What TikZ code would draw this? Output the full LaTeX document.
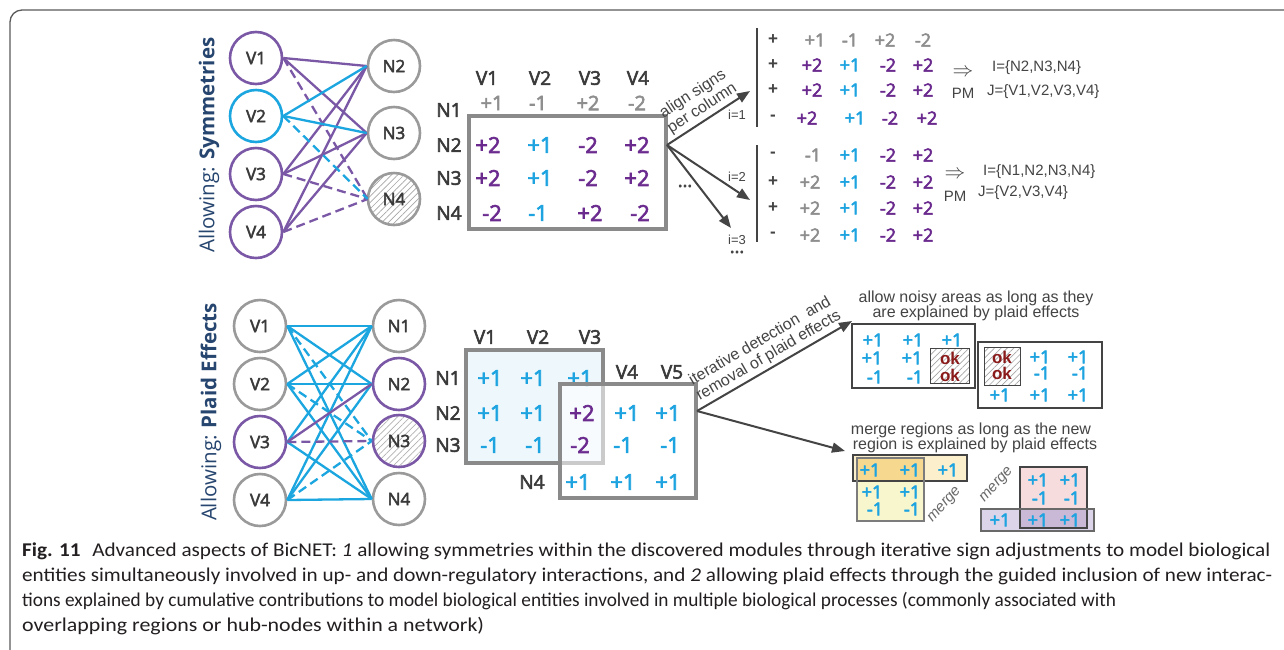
\documentclass[tikz,border=0pt]{standalone}
\usepackage{fontspec}
\usepackage{graphicx}
\setmainfont{Open Sans}
\newfontfamily\osemi[FakeBold=3]{Open Sans}
\newfontfamily\arialf{Liberation Sans}
\newfontfamily\capfont{Carlito}
\usetikzlibrary{arrows.meta,patterns.meta}

\definecolor{pcirc}{HTML}{7B58A6}
\definecolor{ccirc}{HTML}{1BA6E0}
\definecolor{gcirc}{HTML}{9A9A9A}
\definecolor{ptxt}{HTML}{6A2A8E}
\definecolor{ctxt}{HTML}{1CA3E0}
\definecolor{gtxt}{HTML}{8E8E8E}
\definecolor{ltxt}{HTML}{3A3A3A}
\definecolor{navy}{HTML}{26456F}
\definecolor{mbox}{HTML}{8A8A8A}
\definecolor{dk}{HTML}{444444}
\definecolor{okred}{HTML}{8B1A1A}
\definecolor{lblue}{HTML}{EEF8FC}
\definecolor{ypeach}{HTML}{FCEFCB}
\definecolor{ylite}{HTML}{F8F6CC}
\definecolor{yover}{HTML}{F6D88E}
\definecolor{ppink}{HTML}{F6DCDC}
\definecolor{plav}{HTML}{DCD5EA}
\definecolor{pover}{HTML}{C9B8D6}
\definecolor{framec}{HTML}{5A5A5A}
\definecolor{captc}{HTML}{231F20}

\newcommand\fsz[1]{\fontsize{#1}{#1}\selectfont}
% one caption line, stretched or squeezed horizontally to its set width
\newcommand\captxt[2]{\resizebox{#1}{\height}{\capfont\fsz{19.5}#2}}

\tikzset{
  gnode/.style={circle, line width=2.6pt, minimum size=52pt, inner sep=0pt, font=\osemi\fsz{17}, text=ltxt},
  hatch/.style={pattern={Lines[angle=45,distance=4.5pt,line width=0.7pt]}, pattern color=gray!70},
  pe/.style={draw=pcirc, line width=2.3pt},
  ce/.style={draw=ccirc, line width=2.3pt},
  dsh/.style={dash pattern=on 9pt off 5pt},
  lab/.style={font=\osemi\fsz{19}, text=ltxt, inner sep=0pt},
  bigv/.style={font=\osemi\fsz{22}, inner sep=0pt},
  midv/.style={font=\osemi\fsz{20}, inner sep=0pt},
  smv/.style={font=\osemi\fsz{18}, inner sep=0pt},
  mframe/.style={draw=mbox, line width=3.5pt},
  arr/.style={draw=dk, line width=2pt, -{Triangle[length=13pt,width=10pt]}},
  note/.style={font=\arialf\fsz{16}, text=dk, inner sep=0pt},
  slopetxt/.style={midway, sloped, above=3pt, align=center, font=\arialf\fontsize{16}{17}\selectfont, text=dk, inner sep=0pt},
  small/.style={font=\arialf\fsz{13}, text=dk, inner sep=0pt},
  sgn/.style={font=\arialf\bfseries\fsz{17}, text=dk, inner sep=0pt},
  sbox/.style={draw=dk, line width=2pt},
  okbox/.style={draw=dk, line width=1pt, hatch},
  oktxt/.style={font=\arialf\bfseries\fsz{17}, text=okred, inner sep=0pt},
  mergetxt/.style={font=\arialf\itshape\fsz{15}, text=dk!80, inner sep=0pt, rotate=48},
  captline/.style={anchor=base west, inner sep=0pt, text=captc},
}

\begin{document}
\begin{tikzpicture}[x=1pt,y=-1pt]
\useasboundingbox (0,0) rectangle (1284,649);
\fill[white] (0,0) rectangle (1284,649);
% outer frame, open to the right and bottom
\draw[draw=framec, line width=1.3pt, rounded corners=12pt] (10,700) -- (10,10) -- (1320,10);

% ---------------- part 1: symmetries ----------------
\node[rotate=90, font=\fsz{20.5}, text=navy, inner sep=0pt] (alS) at (209,145) {Allowing: \textbf{Symmetries}};

\node[gnode, draw=pcirc] (tV1) at (256,58) {V1};
\node[gnode, draw=ccirc] (tV2) at (256,116) {V2};
\node[gnode, draw=pcirc] (tV3) at (256,174) {V3};
\node[gnode, draw=pcirc] (tV4) at (256,232) {V4};
\node[gnode, draw=gcirc] (tN2) at (394,66) {N2};
\node[gnode, draw=gcirc] (tN3) at (394,133) {N3};
\node[gnode, draw=gcirc, hatch] (tN4) at (394,199) {N4};

\foreach \v in {1,3,4} {
  \draw[pe] (tV\v.east) -- (tN2.west);
  \draw[pe] (tV\v.east) -- (tN3.west);
  \draw[pe,dsh] (tV\v.east) -- (tN4.west);
}
\draw[ce] (tV2.east) -- (tN2.west);
\draw[ce] (tV2.east) -- (tN3.west);
\draw[ce,dsh] (tV2.east) -- (tN4.west);

% matrix
\foreach \x/\t in {487/V1,540/V2,590/V3,638/V4}
  \node[lab] (th\t) at (\x,78) {\t};
\node[lab] (trN1) at (449,110) {N1};
\node[lab] (trN2) at (449,145) {N2};
\node[lab] (trN3) at (449,178) {N3};
\node[lab] (trN4) at (449,213) {N4};
\node[mframe, minimum width=197pt, minimum height=113pt, inner sep=0pt] (tbox) at (567.5,172.5) {};
\foreach \n/\x/\y/\c/\t in {
  11/492/103/gtxt/+1, 12/538/103/gtxt/-1, 13/588/103/gtxt/+2, 14/637/103/gtxt/-2}
  \node[midv, text=\c] (tm\n) at (\x,\y) {\t};
\foreach \n/\x/\y/\c/\t in {
  21/488/145/ptxt/+2, 22/540/145/ctxt/+1, 23/588/145/ptxt/-2, 24/637/145/ptxt/+2,
  31/488/178/ptxt/+2, 32/540/178/ctxt/+1, 33/588/178/ptxt/-2, 34/637/178/ptxt/+2,
  41/492/213/ptxt/-2, 42/538/213/ctxt/-1, 43/590/213/ptxt/+2, 44/640/213/ptxt/-2}
  \node[bigv, text=\c] (tm\n) at (\x,\y) {\t};

% sign alignment arrows
\coordinate (tsrc) at (667,145);
\coordinate (ta1) at (750,91);
\coordinate (ta2) at (750,200);
\coordinate (ta3) at (731,228);
\draw[arr] (tsrc) -- node[slopetxt] (alignlab) {align signs\\per column} (ta1);
\draw[arr] (tsrc) -- (ta2);
\draw[arr] (tsrc) -- (ta3);
\node[small] (i1) at (737,115) {i=1};
\node[small] (i2) at (737,177) {i=2};
\node[small] (i3) at (737,240) {i=3};
\node[font=\osemi\fsz{18}, text=dk, inner sep=0pt] (dots1) at (685,186) {...};
\node[font=\osemi\fsz{18}, text=dk, inner sep=0pt] (dots2) at (737,252) {...};

% adjusted submatrices
\draw[draw=dk, line width=2pt] (757,28) -- (757,127);
\draw[draw=dk, line width=2pt] (757,145) -- (757,242);
\foreach \n/\y/\s in {a1/40/+, a2/65/+, a3/90/+, a4/118/-, b1/155/-, b2/182/+, b3/208/+, b4/235/-}
  \node[sgn] (sg\n) at (773,\y) {\s};
\foreach \n/\x/\y/\c/\t in {
  a11/815/40/gtxt/+1, a12/850/40/gtxt/-1, a13/885/40/gtxt/+2, a14/923/40/gtxt/-2,
  a21/812/65/ptxt/+2, a22/850/65/ctxt/+1, a23/888/65/ptxt/-2, a24/923/65/ptxt/+2,
  a31/812/90/ptxt/+2, a32/850/90/ctxt/+1, a33/888/90/ptxt/-2, a34/923/90/ptxt/+2,
  a41/807/118/ptxt/+2, a42/855/118/ctxt/+1, a43/890/118/ptxt/-2, a44/927/118/ptxt/+2,
  b11/813/155/gtxt/-1, b12/850/155/ctxt/+1, b13/888/155/ptxt/-2, b14/923/155/ptxt/+2,
  b21/810/182/gtxt/+2, b22/850/182/ctxt/+1, b23/888/182/ptxt/-2, b24/923/182/ptxt/+2,
  b31/810/208/gtxt/+2, b32/850/208/ctxt/+1, b33/888/208/ptxt/-2, b34/923/208/ptxt/+2,
  b41/810/235/gtxt/+2, b42/850/235/ctxt/+1, b43/888/235/ptxt/-2, b44/923/235/ptxt/+2}
  \node[smv, text=\c] (r\n) at (\x,\y) {\t};

% resulting modules
\node[font=\fsz{20}, text=dk, inner sep=0pt] (imp1) at (963,73) {$\Rightarrow$};
\node[note, font=\arialf\fsz{15}] (pm1) at (963,93) {PM};
\node[note, font=\arialf\fsz{15}, anchor=west] (I1) at (992,68) {I=\{N2,N3,N4\}};
\node[note, font=\arialf\fsz{15}, anchor=west] (J1) at (987,92) {J=\{V1,V2,V3,V4\}};
\node[font=\fsz{20}, text=dk, inner sep=0pt] (imp2) at (955,175) {$\Rightarrow$};
\node[note, font=\arialf\fsz{15}] (pm2) at (955,196) {PM};
\node[note, font=\arialf\fsz{15}, anchor=west] (I2) at (983,172) {I=\{N1,N2,N3,N4\}};
\node[note, font=\arialf\fsz{15}, anchor=west] (J2) at (978,193) {J=\{V2,V3,V4\}};

% ---------------- part 2: plaid effects ----------------
\node[rotate=90, font=\fsz{20.5}, text=navy, inner sep=0pt] (alP) at (211,412) {Allowing: \textbf{Plaid Effects}};

\node[gnode, draw=gcirc] (bV1) at (260,326) {V1};
\node[gnode, draw=gcirc] (bV2) at (260,384) {V2};
\node[gnode, draw=pcirc] (bV3) at (260,442) {V3};
\node[gnode, draw=gcirc] (bV4) at (260,500) {V4};
\node[gnode, draw=gcirc] (bN1) at (399,326) {N1};
\node[gnode, draw=pcirc] (bN2) at (399,384) {N2};
\node[gnode, draw=pcirc, hatch, pattern color=gray!60] (bN3) at (399,441) {N3};
\node[gnode, draw=gcirc] (bN4) at (399,499) {N4};

\foreach \v in {1,2,4} {
  \draw[ce] (bV\v.east) -- (bN1.west);
  \draw[ce] (bV\v.east) -- (bN2.west);
  \draw[ce] (bV\v.east) -- (bN4.west);
  \draw[ce,dsh] (bV\v.east) -- (bN3.west);
}
\draw[ce] (bV3.east) -- (bN1.west);
\draw[ce] (bV3.east) -- (bN4.west);
\draw[pe] (bV3.east) -- (bN2.west);
\draw[pe,dsh] (bV3.east) -- (bN3.west);

% overlapping biclusters
\node[mframe, fill=lblue, minimum width=137pt, minimum height=113pt, inner sep=0pt] (bbox1) at (534.5,406.5) {};
\fill[white, fill opacity=0.55] (560,384) rectangle (696,498);
\foreach \x/\t in {485/V1,538/V2,590/V3}
  \node[lab] (bh\t) at (\x,337) {\t};
\node[lab] (bhV4) at (627,372) {V4};
\node[lab] (bhV5) at (672,372) {V5};
\node[lab] (brN1) at (448,378) {N1};
\node[lab] (brN2) at (448,413) {N2};
\node[lab] (brN3) at (448,445) {N3};
\node[lab] (brN4) at (532,482) {N4};
\foreach \n/\x/\y/\c/\t in {
  11/490/378/ctxt/+1, 12/533/378/ctxt/+1, 13/580/378/ctxt/+1,
  21/490/413/ctxt/+1, 22/533/413/ctxt/+1, 23/582/413/ptxt/+2, 24/627/413/ctxt/+1, 25/668/413/ctxt/+1,
  31/490/445/ctxt/-1, 32/535/445/ctxt/-1, 33/580/445/ptxt/-2, 34/623/445/ctxt/-1, 35/670/445/ctxt/-1,
  43/578/482/ctxt/+1, 44/623/482/ctxt/+1, 45/668/482/ctxt/+1}
  \node[bigv, text=\c] (bm\n) at (\x,\y) {\t};
\node[mframe, minimum width=136pt, minimum height=114pt, inner sep=0pt] (bbox2) at (628,441) {};

\coordinate (bsrc) at (697,411);
\coordinate (bb1) at (852,321);
\coordinate (bb2) at (845,451);
\draw[arr] (bsrc) -- node[slopetxt] (iterlab) {iterative detection\ \ and\\removal of plaid effects} (bb1);
\draw[arr] (bsrc) -- (bb2);

% noisy areas explained by plaid effects
\node[note] (nz1) at (976,298) {allow noisy areas as long as they};
\node[note] (nz2) at (976,313) {are explained by plaid effects};
\draw[sbox, fill=white] (852,324) rectangle (975,388);
\draw[sbox, fill=white] (978,342) rectangle (1102,408);
\draw[okbox] (930,348) rectangle (969,383);
\draw[okbox] (984,347) rectangle (1020,385);
\foreach \n/\x/\y/\c/\t in {
  a11/873/340/ctxt/+1, a12/913/340/ctxt/+1, a13/952/340/ctxt/+1,
  a21/872/358/ctxt/+1, a22/912/358/ctxt/+1,
  a31/875/377/ctxt/-1, a32/915/377/ctxt/-1,
  b12/1040/357/ctxt/+1, b13/1078/357/ctxt/+1,
  b22/1042/373/ctxt/-1, b23/1080/373/ctxt/-1,
  b31/1000/395/ctxt/+1, b32/1040/395/ctxt/+1, b33/1078/395/ctxt/+1}
  \node[smv, text=\c] (nv\n) at (\x,\y) {\t};
\node[oktxt] (oka1) at (950,358) {ok};
\node[oktxt] (oka2) at (950,375) {ok};
\node[oktxt] (okb1) at (1002,357) {ok};
\node[oktxt] (okb2) at (1002,373) {ok};

% merged regions
\node[note] (mg1) at (971,430) {merge regions as long as the new};
\node[note] (mg2) at (975,445) {region is explained by plaid effects};
\fill[ypeach] (853,455) rectangle (967,481);
\fill[ylite] (857,458) rectangle (924,521);
\fill[yover] (857,458) rectangle (924,481);
\draw[draw=dk, line width=1.6pt] (853,455) rectangle (967,481);
\draw[draw=dk!70, line width=1.4pt] (857,458) rectangle (924,521);
\foreach \n/\x/\y/\c/\t in {
  11/870/470/ctxt/+1, 12/910/470/ctxt/+1, 13/948/470/ctxt/+1,
  21/872/492/ctxt/+1, 22/910/492/ctxt/+1,
  31/875/509/ctxt/-1, 32/912/509/ctxt/-1}
  \node[smv, text=\c] (yv\n) at (\x,\y) {\t};
\node[mergetxt] (mgw1) at (945,505) {merge};

\fill[ppink] (1020,467) rectangle (1087,528);
\fill[plav] (981,509) rectangle (1094,531);
\fill[pover] (1020,509) rectangle (1087,528);
\draw[draw=dk, line width=1.6pt] (1020,467) rectangle (1087,528);
\draw[draw=dk!80, line width=1.6pt] (981,509) rectangle (1094,531);
\foreach \n/\x/\y/\c/\t in {
  11/1038/480/ctxt/+1, 12/1070/480/ctxt/+1,
  21/1040/498/ctxt/-1, 22/1072/498/ctxt/-1,
  31/1000/520/ctxt/+1, 32/1038/520/ctxt/+1, 33/1070/520/ctxt/+1}
  \node[smv, text=\c] (pv\n) at (\x,\y) {\t};
\node[mergetxt] (mgw2) at (997,485) {merge};

% ---------------- caption ----------------
\node[captline] (cap1) at (22,556) {\captxt{1248pt}{\textbf{Fig. 11}\hspace{0.55em}Advanced aspects of BicNET: \textit{1} allowing symmetries within the discovered modules through iterative sign adjustments to model biological}};
\node[captline] (cap2) at (22,581) {\captxt{1250pt}{entities simultaneously involved in up- and down-regulatory interactions, and \textit{2} allowing plaid effects through the guided inclusion of new interac-}};
\node[captline] (cap3) at (22,606) {\captxt{1094pt}{tions explained by cumulative contributions to model biological entities involved in multiple biological processes (commonly associated with}};
\node[captline] (cap4) at (22,631) {\captxt{462pt}{overlapping regions or hub-nodes within a network)}};
\end{tikzpicture}
\end{document}
